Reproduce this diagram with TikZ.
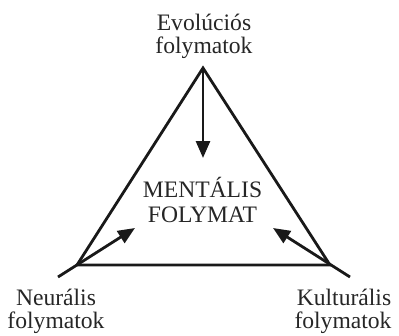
\documentclass[tikz,border=0pt]{standalone}
\usepackage{fontspec}
\setmainfont{Liberation Serif}
\usetikzlibrary{arrows.meta}
\begin{document}
\begin{tikzpicture}[x=1pt,y=-1pt,
  lbl/.style={font=\fontsize{23.6}{25}\selectfont, anchor=base, inner sep=0pt, text=black!85},
  edge/.style={line width=2.8pt, line join=miter, draw=black!90},
  arr/.style={line width=2.8pt, draw=black!90, -{Triangle[length=17pt,width=14pt]}}]
\useasboundingbox (0,0) rectangle (399,335);
\coordinate (top) at (203,68);
\coordinate (bl) at (77,265);
\coordinate (br) at (330,265);
\coordinate (ls) at (58,277);
\coordinate (rs) at (350,277);
\coordinate (tt) at (203,158);
\coordinate (lt) at (135,228);
\coordinate (rt) at (273,228);
\draw[edge] (top) -- (bl) -- (br) -- cycle;
\draw[arr] (top) -- (tt);
\draw[arr] (ls) -- (lt);
\draw[arr] (rs) -- (rt);
\node[lbl] (e1) at (204,30) {Evolúciós};
\node[lbl] (e2) at (204,53) {folymatok};
\node[lbl] (m1) at (202.5,197) {MENTÁLIS};
\node[lbl] (m2) at (202.5,222) {FOLYMAT};
\node[lbl] (n1) at (56,305) {Neurális};
\node[lbl] (n2) at (56,328) {folymatok};
\node[lbl] (k1) at (344,305) {Kulturális};
\node[lbl] (k2) at (343,328) {folymatok};
\end{tikzpicture}
\end{document}
